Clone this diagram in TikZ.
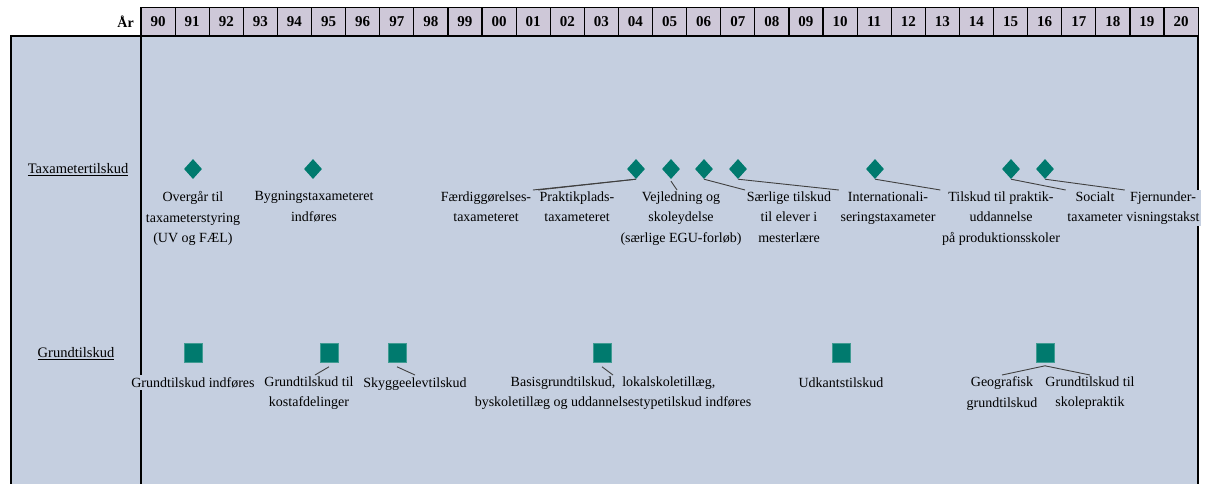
\documentclass[tikz,border=0pt]{standalone}
\usepackage{fontspec}
\setmainfont{Liberation Serif}
\usetikzlibrary{shapes.geometric}

\definecolor{panelblue}{RGB}{197,207,224}
\definecolor{yearlilac}{RGB}{206,200,216}
\definecolor{markteal}{RGB}{0,122,110}
\definecolor{leadgray}{RGB}{64,64,64}

\tikzset{
  yearcell/.style={draw=black, line width=1.2pt, fill=yearlilac, minimum width=34.1pt,
    minimum height=27.5pt, inner sep=0pt, font=\bfseries\fontsize{15}{17}\selectfont},
  taxmark/.style={diamond, fill=markteal, minimum width=18pt, minimum height=20pt, inner sep=0pt},
  grundmark/.style={rectangle, fill=markteal, draw=markteal!75!white, line width=0.6pt,
    minimum width=18pt, minimum height=19pt, inner sep=0pt},
  event/.style={align=center, fill=panelblue, inner sep=1.5pt, anchor=north,
    execute at begin node={\rule{0pt}{11pt}}, font=\fontsize{14}{20.5}\selectfont},
  rowlabel/.style={font=\fontsize{14.5}{17}\selectfont},
  lead/.style={draw=leadgray, line width=0.9pt}
}

\begin{document}
\begin{tikzpicture}[x=1pt, y=-1pt]
  \useasboundingbox (0,0) rectangle (1205,483);
  % panel
  \fill[panelblue] (11,36) rectangle (1198,490);
  \draw[line width=1.6pt] (11,490) -- (11,36) -- (1198,36) -- (1198,490);
  \draw[line width=1.6pt] (141,36) -- (141,490);

  % year row
  \node[font=\bfseries\fontsize{14}{16}\selectfont, anchor=east, inner sep=0pt] (aar) at (134,22) {År};
  \foreach \yr [count=\i from 0] in {90,91,92,93,94,95,96,97,98,99,00,01,02,03,04,05,06,07,08,09,10,11,12,13,14,15,16,17,18,19,20}
    \node[yearcell] (y\yr) at ({141+34.1*(\i+0.5)},21.5) {\yr};

  % row labels
  \node[rowlabel] (taxrow) at (78,170) {\underline{Taxametertilskud}};
  \node[rowlabel] (grundrow) at (76,354) {\underline{Grundtilskud}};

  % taxameter events
  \node[taxmark] (d91) at (193,169) {};
  \node[taxmark] (d94) at (313,169) {};
  \node[taxmark] (d04) at (636,169) {};
  \node[taxmark] (d05) at (671,169) {};
  \node[taxmark] (d06) at (704,169) {};
  \node[taxmark] (d07) at (738,169) {};
  \node[taxmark] (d11) at (875,169) {};
  \node[taxmark] (d15) at (1011,169) {};
  \node[taxmark] (d16) at (1045,169) {};

  \node[event] (lOverg) at (193,190) {Overgår til\\taxameterstyring\\(UV og FÆL)};
  \node[event] (lBygn) at (314,190) {Bygningstaxameteret\\indføres};
  \node[event] (lFaerd) at (486,190) {Færdiggørelses-\\taxameteret};
  \node[event] (lPrakt) at (577,190) {Praktikplads-\\taxameteret};
  \node[event] (lVejl) at (681,190) {Vejledning og\\skoleydelse\\(særlige EGU-forløb)};
  \node[event] (lSaerl) at (789,190) {Særlige tilskud\\til elever i\\mesterlære};
  \node[event] (lInter) at (888,190) {Internationali-\\seringstaxameter};
  \node[event] (lPraktik) at (1001,190) {Tilskud til praktik-\\uddannelse\\på produktionsskoler};
  \node[event] (lSocial) at (1095,190) {Socialt\\taxameter};
  \node[event] (lFjern) at (1163,190) {Fjernunder-\\visningstakst};

  \draw[lead] (d04.south) -- (lFaerd.north east);
  \draw[lead] (d04.south) -- (lPrakt.north west);
  \draw[lead] ([yshift=-2pt]d05.south) -- ([xshift=-4pt]lVejl.north);
  \draw[lead] (d06.south) -- (lSaerl.north west);
  \draw[lead] (d07.south) -- (lInter.north west);
  \draw[lead] (d11.south) -- (lPraktik.north west);
  \draw[lead] (d15.south) -- (lSocial.north west);
  \draw[lead] (d16.south) -- (lFjern.north west);

  % grundtilskud events
  \node[grundmark] (s91) at (193,353) {};
  \node[grundmark] (s95) at (329,353) {};
  \node[grundmark] (s97) at (397,353) {};
  \node[grundmark] (s03) at (602,353) {};
  \node[grundmark] (s10) at (841,353) {};
  \node[grundmark] (s16) at (1045,353) {};

  \node[event] (lIndf) at (193,375) {Grundtilskud indføres};
  \node[event] (lKost) at (309,375) {Grundtilskud til\\kostafdelinger};
  \node[event] (lSkygge) at (415,375) {Skyggeelevtilskud};
  \node[event] (lBasis) at (613,375) {Basisgrundtilskud,\ \ lokalskoletillæg,\\byskoletillæg og uddannelsestypetilskud indføres};
  \node[event] (lUdkant) at (841,375) {Udkantstilskud};
  \node[event] (lGeo) at (1002,375) {Geografisk\\grundtilskud};
  \node[event] (lSkole) at (1090,375) {Grundtilskud til\\skolepraktik};

  \draw[lead] ([yshift=-4pt]s95.south) -- ([xshift=6pt]lKost.north);
  \draw[lead] ([yshift=-4pt]s97.south) -- (lSkygge.north);
  \draw[lead] ([yshift=-4pt]s03.south) -- (lBasis.north);
  \draw[lead] ([yshift=-3pt]s16.south) -- (lGeo.north);
  \draw[lead] ([yshift=-3pt]s16.south) -- (lSkole.north);
\end{tikzpicture}
\end{document}
